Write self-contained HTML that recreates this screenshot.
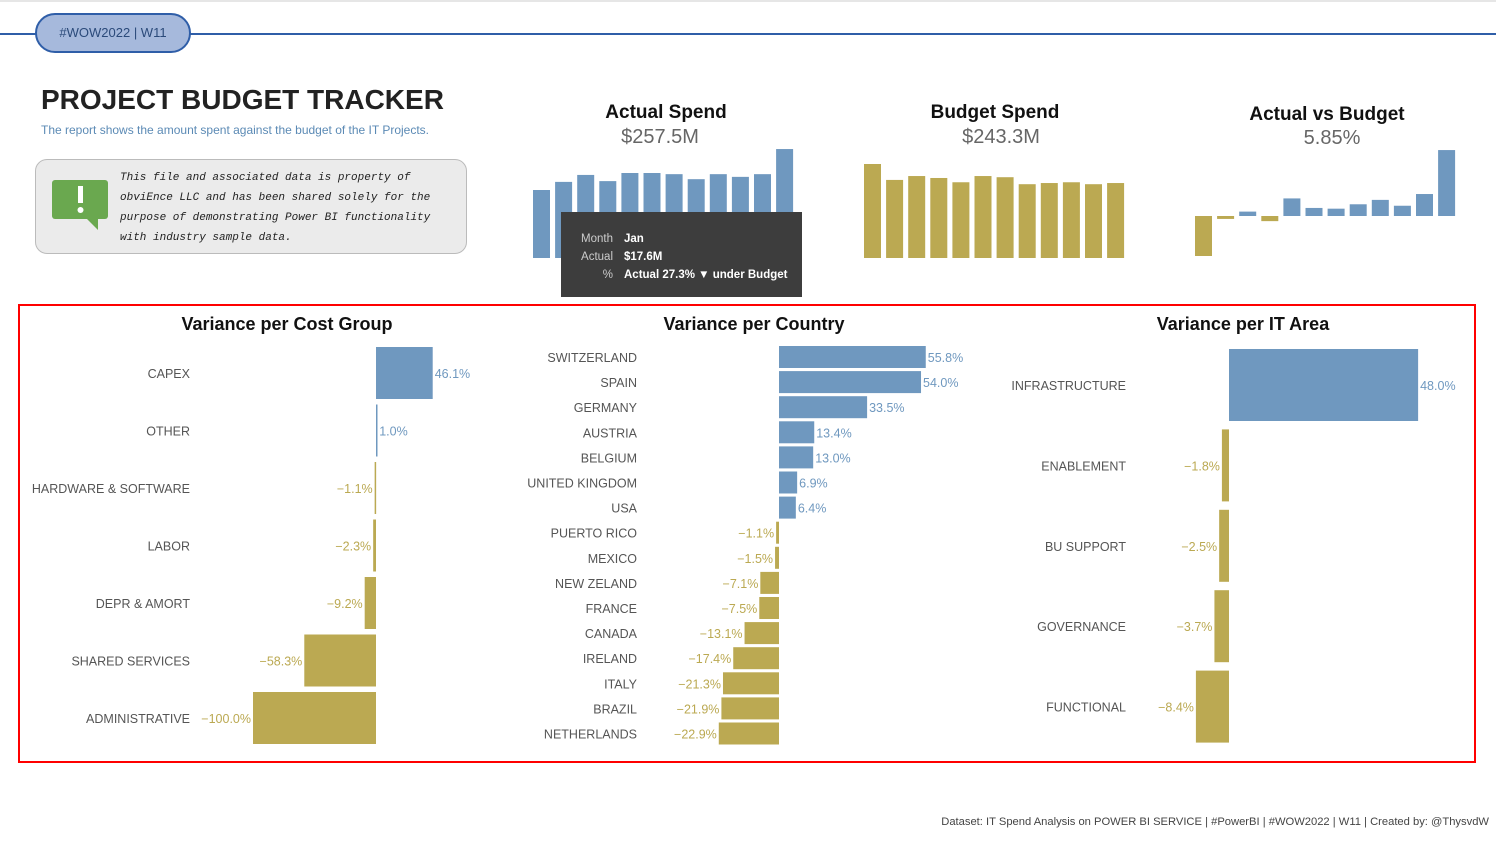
<!DOCTYPE html>
<html><head><meta charset="utf-8"><style>
body{margin:0;width:1496px;height:841px;position:relative;background:#fff;font-family:"Liberation Sans",sans-serif;overflow:hidden}
.abs{position:absolute}
svg text{font-family:"Liberation Sans",sans-serif}
</style></head><body>
<div class="abs" style="left:0;top:0;width:1496px;height:2px;background:#e6e6e6"></div>
<div class="abs" style="left:0;top:33px;width:1496px;height:2px;background:#2f5ea8"></div>
<div class="abs" style="left:35px;top:13px;width:152px;height:36px;border:2px solid #2f5ea8;border-radius:20px;background:#a6b9dc;color:#2b4a7a;font-size:13px;line-height:36px;text-align:center">#WOW2022 | W11</div>
<div class="abs" style="left:41px;top:84px;font-size:28px;font-weight:bold;color:#222">PROJECT BUDGET TRACKER</div>
<div class="abs" style="left:41px;top:123px;font-size:12px;color:#5b8ab5">The report shows the amount spent against the budget of the IT Projects.</div>
<div class="abs" style="left:35px;top:159px;width:430px;height:93px;border:1px solid #bbb;border-radius:12px;background:#ebebeb"></div>
<svg class="abs" style="left:52px;top:180px" width="56" height="52"><rect x="0" y="0" width="56" height="39" rx="3" fill="#6aa84f"/><polygon points="34,38 46,38 46,50" fill="#6aa84f"/><rect x="26" y="6" width="5" height="17" fill="#fff"/><circle cx="28.5" cy="30" r="3" fill="#fff"/></svg>
<div class="abs" style="left:120px;top:168px;font-family:'Liberation Mono',monospace;font-style:italic;font-size:11px;line-height:20px;color:#222">This file and associated data is property of<br>obviEnce LLC and has been shared solely for the<br>purpose of demonstrating Power BI functionality<br>with industry sample data.</div>

<div class="abs" style="left:566px;top:102px;width:200px;text-align:center;font-size:19px;font-weight:bold;color:#111">Actual Spend</div>
<div class="abs" style="left:560px;top:126px;width:200px;text-align:center;font-size:20px;color:#666">$257.5M</div>
<div class="abs" style="left:895px;top:102px;width:200px;text-align:center;font-size:19px;font-weight:bold;color:#111">Budget Spend</div>
<div class="abs" style="left:901px;top:126px;width:200px;text-align:center;font-size:20px;color:#666">$243.3M</div>
<div class="abs" style="left:1227px;top:104px;width:200px;text-align:center;font-size:19px;font-weight:bold;color:#111">Actual vs Budget</div>
<div class="abs" style="left:1232px;top:127px;width:200px;text-align:center;font-size:20px;color:#666">5.85%</div>

<svg id="sv" class="abs" style="left:0;top:0" width="1496" height="841"></svg>

<div class="abs" style="left:561px;top:212px;width:241px;height:85px;background:#3d3d3d;color:#fff;font-size:11.5px">
<div style="position:absolute;left:0;top:18px;width:52px;text-align:right;color:#ccc;line-height:18px">Month<br>Actual<br>%</div>
<div style="position:absolute;left:63px;top:18px;font-weight:bold;line-height:18px">Jan<br>$17.6M<br>Actual 27.3% ▼ under Budget</div>
</div>
<div class="abs" style="left:18px;top:304px;width:1454px;height:455px;border:2px solid #f00"></div>
<div class="abs" style="right:7px;top:816px;font-size:11.2px;color:#444">Dataset: IT Spend Analysis on POWER BI SERVICE | #PowerBI | #WOW2022 | W11 | Created by: @ThysvdW</div>

<script>
const months=["Jan","Feb","Mar","Apr","May","Jun","Jul","Aug","Sep","Oct","Nov","Dec"];
const actualSpend=[17.6,19.7,21.5,19.9,22.0,22.0,21.7,20.4,21.7,21.0,21.7,28.2];
const budgetSpend=[24.2,20.1,21.1,20.6,19.5,21.1,20.8,19.0,19.3,19.5,19.0,19.3];
const monthVariance=[-27.3,-2,3,-3.5,12,5.5,5,8,11,7,15,45];
const costGroups=["CAPEX","OTHER","HARDWARE & SOFTWARE","LABOR","DEPR & AMORT","SHARED SERVICES","ADMINISTRATIVE"];
const costVar=[46.1,1.0,-1.1,-2.3,-9.2,-58.3,-100.0];
const countries=["SWITZERLAND","SPAIN","GERMANY","AUSTRIA","BELGIUM","UNITED KINGDOM","USA","PUERTO RICO","MEXICO","NEW ZELAND","FRANCE","CANADA","IRELAND","ITALY","BRAZIL","NETHERLANDS"];
const countryVar=[55.8,54.0,33.5,13.4,13.0,6.9,6.4,-1.1,-1.5,-7.1,-7.5,-13.1,-17.4,-21.3,-21.9,-22.9];
const itAreas=["INFRASTRUCTURE","ENABLEMENT","BU SUPPORT","GOVERNANCE","FUNCTIONAL"];
const itVar=[48.0,-1.8,-2.5,-3.7,-8.4];

const BLUE="#6f98bf",GOLD="#bba952";
const sv=document.getElementById('sv');
function mk(t,a,txt){const e=document.createElementNS("http://www.w3.org/2000/svg",t);for(const k in a)e.setAttribute(k,a[k]);if(txt!=null)e.textContent=txt;sv.appendChild(e);return e;}

function spark(vals,x0,pitch,bw,base,scale,name,colorFn){
  vals.forEach((v,i)=>{
    const h=Math.abs(v)*scale;
    const r=mk('rect',{x:x0+i*pitch,y:v>=0?base-h:base,width:bw,height:Math.max(h,1),fill:colorFn(v)});
    
    
  });
}
spark(actualSpend,533,22.1,17,258,68/17.6,'actual-bar',()=>BLUE);
spark(budgetSpend,864,22.1,17,258,94/24.2,'budget-bar',()=>GOLD);
spark(monthVariance,1195,22.1,17,216,40/27.3,'variance-bar',v=>v>=0?BLUE:GOLD);

function hbar(title,tx,ty,cats,vals,zero,pxPer,y0,step,bh,labelRight,name){
  const t=mk('text',{x:tx,y:ty,'text-anchor':'middle','font-size':18,'font-weight':'bold',fill:'#111'},title);
  
  
  cats.forEach((c,i)=>{
    const cy=y0+i*step,v=vals[i],w=Math.abs(v)*pxPer;
    const col=v>=0?BLUE:GOLD;
    const r=mk('rect',{x:v>=0?zero:zero-w,y:cy-bh/2,width:Math.max(w,1.5),height:bh,fill:col});
    
    
    const l=mk('text',{x:labelRight,y:cy+5,'text-anchor':'end','font-size':12.5,fill:'#555'},c);
    
    
    const s=(v<0?'\u2212':'')+Math.abs(v).toFixed(1)+'%';
    const d=mk('text',{x:v>=0?zero+w+2:zero-w-2,y:cy+5,'text-anchor':v>=0?'start':'end','font-size':12.5,fill:col},s);
    
    
  });
}
hbar('Variance per Cost Group',287,330,costGroups,costVar,376,1.23,373,57.5,52,190,'cost-group');
hbar('Variance per Country',754,330,countries,countryVar,779,2.63,357,25.1,22,637,'country');
hbar('Variance per IT Area',1243,330,itAreas,itVar,1229,3.94,385,80.4,72,1126,'it-area');
</script>
</body></html>
